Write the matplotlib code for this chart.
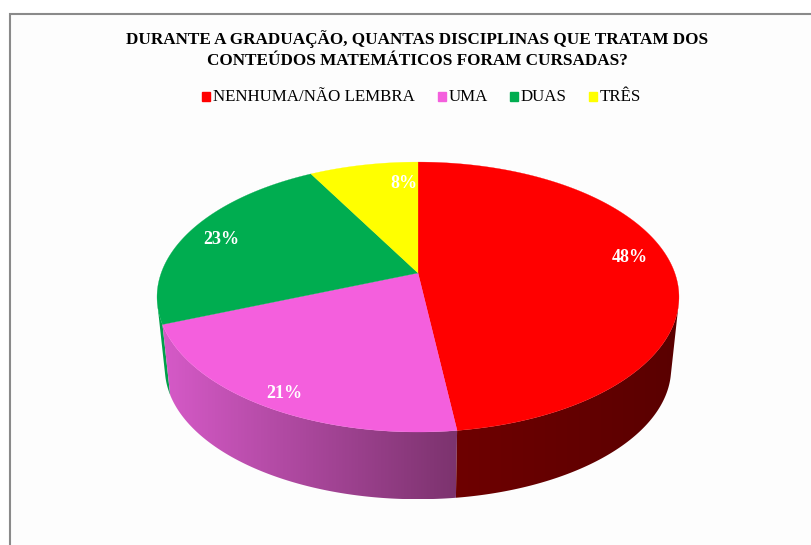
#!/usr/bin/env python3
import numpy as np
import matplotlib.pyplot as plt
from matplotlib.colors import to_rgb
from matplotlib.patches import Polygon, Rectangle

categories = ['NENHUMA/NÃO LEMBRA', 'UMA', 'DUAS', 'TRÊS']
values = [48, 21, 23, 8]
value_labels = ['48%', '21%', '23%', '8%']
colors = ['#FF0000', '#F45FDD', '#00AD50', '#FFFF00']
# wall shading of each slice, left end to right end
wall_left = ['#6E0000', '#D65AC8', '#00A04A', '#B0B000']
wall_right = ['#5A0000', '#7C336E', '#00A04A', '#B0B000']
title_lines = ['DURANTE A GRADUAÇÃO, QUANTAS DISCIPLINAS QUE TRATAM DOS',
               'CONTEÚDOS MATEMÁTICOS FORAM CURSADAS?']

# pixel positions of the texts
label_pos = [(630, 258), (284, 393), (221, 239), (404, 184)]
legend_box_x = [206, 442, 514, 593]
legend_text_x = [213, 449, 521, 600]

# pie geometry, the top face is a circle seen in perspective
cx, cy = 418, 273
a, b, k = 256.8, 130.7, 0.178
depth = 72
shrink = 0.97


def project(u, v):
    d = 1 + k * v
    return a * u / d, -b * v / d


def top_rim(t):
    x, y = project(np.cos(t), np.sin(t))
    return cx + x, cy + y


def bottom_rim(t):
    x, y = project(np.cos(t), np.sin(t))
    return cx + shrink * x, cy + depth + shrink * y


def draw_wall(ax, i, t):
    # only the part of the wall that faces the viewer
    x0, y0 = top_rim(t)
    x1, y1 = bottom_rim(t)
    front = np.gradient(x0) * (y1 - y0) - np.gradient(y0) * (x1 - x0) < 0
    if front.sum() < 2:
        return
    x0, y0, x1, y1 = x0[front], y0[front], x1[front], y1[front]
    px = np.r_[x0, x1[::-1]]
    py = np.r_[y0, y1[::-1]]
    # horizontal gradient clipped to the wall outline
    poly = Polygon(np.column_stack([px, py]), closed=True, transform=ax.transData,
                   facecolor='none', edgecolor='none')
    ax.add_patch(poly)
    c0 = np.array(to_rgb(wall_left[i]))
    c1 = np.array(to_rgb(wall_right[i]))
    f = np.linspace(0, 1, 256)[:, None]
    ramp = (c0 + (c1 - c0) * f)[None, :, :]
    im = ax.imshow(ramp, extent=[px.min(), px.max(), py.max(), py.min()],
                   aspect='auto', interpolation='bilinear', zorder=2 + (3 - i) * 0.1)
    im.set_clip_path(poly)


fig = plt.figure(figsize=(8.11, 5.45), dpi=100)
ax = fig.add_axes([0, 0, 1, 1])
ax.axis('off')

# chart frame
ax.add_patch(Rectangle((9.5, 13.5), 900, 600, facecolor='#FDFDFD',
                       edgecolor='#8A8A8A', linewidth=1.5, zorder=1))

# slice angles, clockwise from the top
fractions = np.array(values) / sum(values)
edges = np.pi / 2 - 2 * np.pi * np.concatenate([[0], np.cumsum(fractions)])

# walls first, back slices before front ones
for i in [3, 2, 1, 0]:
    draw_wall(ax, i, np.linspace(edges[i], edges[i + 1], 600))

# top face
for i in range(len(values)):
    t = np.linspace(edges[i], edges[i + 1], 200)
    x, y = top_rim(t)
    ax.fill(np.r_[cx, x], np.r_[cy, y], color=colors[i], linewidth=0.2, zorder=3)

for lab, (x, y) in zip(value_labels, label_pos):
    ax.text(x, y, lab, color='white', fontsize=13, fontweight='bold',
            family='Liberation Serif', ha='center', va='center', zorder=4)

# title
for line, y in zip(title_lines, [39, 61]):
    ax.text(417, y, line, color='black', fontsize=12.3, fontweight='bold',
            family='Liberation Serif', ha='center', va='center', zorder=4)

# legend
for i in range(len(categories)):
    ax.add_patch(Rectangle((legend_box_x[i] - 4, 92), 8, 9, color=colors[i], zorder=4))
    ax.text(legend_text_x[i], 97, categories[i], color='black', fontsize=12.2,
            family='Liberation Serif', ha='left', va='center', zorder=4)

ax.set_xlim(0, 811)
ax.set_ylim(545, 0)
plt.savefig('out.png', dpi=100)
plt.close()
